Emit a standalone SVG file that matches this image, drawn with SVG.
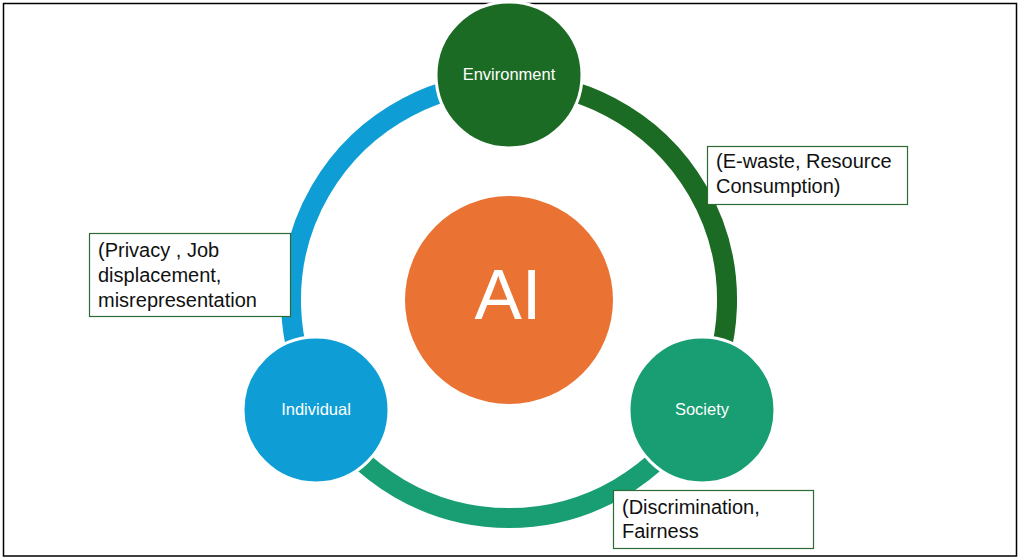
<svg xmlns="http://www.w3.org/2000/svg" width="1021" height="559" viewBox="0 0 1021 559">
<style>
.arc{fill:none;stroke-width:20}
.node{stroke:#fff;stroke-width:3}
.lbl{font-family:"Liberation Sans",Arial,sans-serif;font-size:16.5px;fill:#fff;text-anchor:middle}
.box{fill:#fff;stroke:#2E6B34;stroke-width:1.2}
.note{font-family:"Liberation Sans",Arial,sans-serif;font-size:20px;fill:#111}
</style>
<rect x="0" y="0" width="1021" height="559" fill="#fff"/>
<rect x="3.5" y="3.5" width="1013" height="552.5" fill="none" stroke="#000" stroke-width="1.5"/>
<g id="connectors">
<path class="arc" stroke="#0E9ED5" d="M319.6,408 A218,218 0 0 1 509,82"/>
<path class="arc" stroke="#1B6B24" d="M509,82 A218,218 0 0 1 698.4,408"/>
<path class="arc" stroke="#189E72" d="M698.4,408 A218,218 0 0 1 319.6,408"/>
</g>
<g id="ai">
<circle cx="509" cy="300" r="104" fill="#EA7233"/>
<text x="508" y="319" font-family="Liberation Sans,Arial,sans-serif" font-size="71" fill="#fff" text-anchor="middle">AI</text>
</g>
<g id="environment">
<circle class="node" cx="509" cy="75" r="73" fill="#1B6B24"/>
<text class="lbl" x="509" y="80">Environment</text>
</g>
<g id="individual">
<circle class="node" cx="316" cy="410" r="73" fill="#0E9ED5"/>
<text class="lbl" x="316" y="415">Individual</text>
</g>
<g id="society">
<circle class="node" cx="702" cy="410" r="73" fill="#189E72"/>
<text class="lbl" x="702" y="415">Society</text>
</g>
<g id="note-environment">
<rect class="box" x="707.5" y="146.5" width="200" height="58"/>
<text class="note" x="716" y="168">(E-waste, Resource</text>
<text class="note" x="716" y="193">Consumption)</text>
</g>
<g id="note-individual">
<rect class="box" x="89.5" y="233.5" width="201" height="83"/>
<text class="note" x="98" y="257">(Privacy , Job</text>
<text class="note" x="98" y="282">displacement,</text>
<text class="note" x="98" y="307">misrepresentation</text>
</g>
<g id="note-society">
<rect class="box" x="613.5" y="490.5" width="200" height="58"/>
<text class="note" x="622" y="514">(Discrimination,</text>
<text class="note" x="622" y="538">Fairness</text>
</g>
</svg>
